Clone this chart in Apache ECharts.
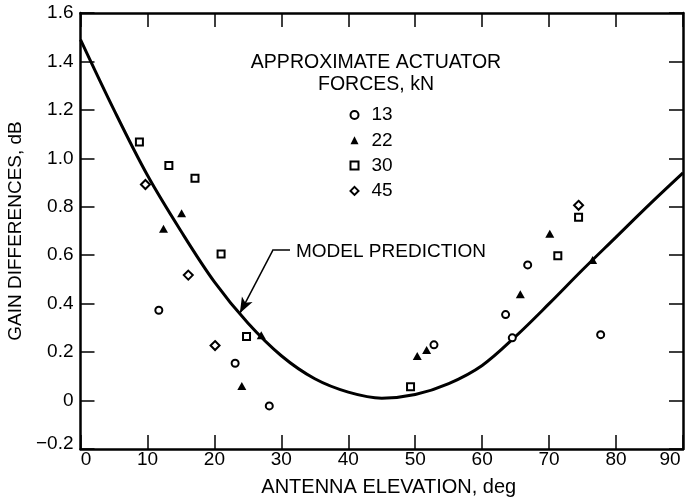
<!DOCTYPE html>
<html>
<head>
<meta charset="utf-8">
<script src="https://cdn.jsdelivr.net/npm/echarts@6/dist/echarts.min.js"></script>
<style>
  html, body { margin: 0; padding: 0; background: #fff; }
  #chart { width: 688px; height: 501px; }
</style>
</head>
<body>
<div id="chart"></div>
<script>
// ---- data ----
const modelX = [0, 5, 10, 15, 20, 25, 30, 35, 40, 45, 50, 55, 60, 65, 70, 75, 80, 85, 90];
const modelY = [1.49, 1.20, 0.93, 0.70, 0.49, 0.32, 0.185, 0.09, 0.035, 0.01, 0.025, 0.07, 0.145, 0.265, 0.40, 0.54, 0.675, 0.81, 0.94];

const force13 = [[11.7, 0.373], [23.1, 0.154], [28.2, -0.022], [52.8, 0.23], [63.5, 0.355], [64.5, 0.259], [66.8, 0.56], [77.7, 0.272]];
const force22 = [[12.4, 0.709], [15.1, 0.773], [24.1, 0.06], [27.0, 0.27], [50.3, 0.184], [51.7, 0.209], [65.7, 0.439], [70.1, 0.689], [76.5, 0.58]];
const force30 = [[8.8, 1.067], [13.2, 0.97], [17.1, 0.918], [21.0, 0.605], [24.8, 0.264], [49.3, 0.057], [71.3, 0.598], [74.4, 0.757]];
const force45 = [[9.7, 0.892], [16.1, 0.518], [20.1, 0.227], [74.4, 0.806]];

const legendNames = ['13', '22', '30', '45'];
const xTicks = { min: 0, max: 90, interval: 10 };
const yTicks = { min: -0.2, max: 1.6, interval: 0.2 };

// annotation anchor points (data coordinates)
const annotElbow = [28.8, 0.624];
const annotStart = [31.3, 0.624];
const annotTip = [23.8, 0.36];

const legendTitle = 'APPROXIMATE ACTUATOR\nFORCES, kN';
const modelLabel = 'MODEL PREDICTION';
const xName = 'ANTENNA ELEVATION, deg';
const yName = 'GAIN DIFFERENCES, dB';

// ---- chart ----
const FONT = '"Liberation Sans", Arial, Helvetica, sans-serif';
const chart = echarts.init(document.getElementById('chart'), null, { renderer: 'canvas' });

function yFmt(v) {
  if (Math.abs(v) < 1e-9) return '0';
  const s = (v < 0 ? '\u2212' : '') + Math.abs(v).toFixed(1);
  return v < 0 ? '{low|' + s + '}' : s;
}
function xFmt(v) {
  if (v === xTicks.min) return '{first|' + v + '}';
  if (v === xTicks.max) return '{last|' + v + '}';
  return String(v);
}

const axisLine = { show: true, onZero: false, lineStyle: { color: '#000', width: 2.5 } };
const axisTick = { show: true, inside: true, length: 14, lineStyle: { color: '#000', width: 1.5 } };

const option = {
  backgroundColor: '#fff',
  animation: false,
  textStyle: { fontFamily: FONT, color: '#000' },
  grid: { left: 80.5, right: 5, top: 13, bottom: 52, containLabel: false, outerBoundsMode: 'none' },
  title: {
    text: legendTitle,
    left: 371,
    top: 47,
    textAlign: 'center',
    textStyle: { fontFamily: FONT, fontSize: 19.5, fontWeight: 'normal', color: '#000', lineHeight: 22 }
  },
  legend: {
    data: legendNames,
    orient: 'vertical',
    left: 344.5,
    top: 100.5,
    itemWidth: 8,
    itemHeight: 8,
    itemGap: 6.3,
    textStyle: { fontFamily: FONT, fontSize: 19, color: '#000', lineHeight: 19, padding: [0, 0, 0, 8] },
    selectedMode: false
  },
  graphic: [{
    type: 'text',
    left: 296,
    top: 242,
    style: { text: modelLabel, font: '19px ' + FONT, fill: '#000' }
  }],
  xAxis: [{
    type: 'value', position: 'bottom',
    min: xTicks.min, max: xTicks.max, interval: xTicks.interval,
    axisLine, axisTick,
    axisLabel: {
      fontSize: 19, color: '#000', margin: 1, fontFamily: FONT, formatter: xFmt,
      rich: {
        first: { fontSize: 19, fontFamily: FONT, color: '#000', padding: [0, 0, 0, 11] },
        last: { fontSize: 19, fontFamily: FONT, color: '#000', padding: [0, 26, 0, 0] }
      }
    },
    splitLine: { show: false },
    name: xName, nameLocation: 'middle', nameGap: 28,
    nameTextStyle: { fontSize: 20, color: '#000', fontFamily: FONT, padding: [0, 0, 0, 14] }
  }, {
    type: 'value', position: 'top',
    min: xTicks.min, max: xTicks.max, interval: xTicks.interval,
    axisLine, axisTick,
    axisLabel: { show: false }, splitLine: { show: false }
  }],
  yAxis: [{
    type: 'value', position: 'left',
    min: yTicks.min, max: yTicks.max, interval: yTicks.interval,
    axisLine, axisTick,
    axisLabel: {
      fontSize: 19, color: '#000', margin: 7, fontFamily: FONT, formatter: yFmt,
      rich: { low: { fontSize: 19, fontFamily: FONT, color: '#000', padding: [0, 0, 10, 0] } }
    },
    splitLine: { show: false },
    name: yName, nameLocation: 'middle', nameGap: 53,
    nameTextStyle: { fontSize: 19, color: '#000', fontFamily: FONT }
  }, {
    type: 'value', position: 'right',
    min: yTicks.min, max: yTicks.max, interval: yTicks.interval,
    axisLine, axisTick,
    axisLabel: { show: false }, splitLine: { show: false }
  }],
  series: [
    {
      name: 'model', type: 'line',
      data: modelX.map((x, i) => [x, modelY[i]]),
      smooth: 0.35, showSymbol: false, symbol: 'none',
      lineStyle: { color: '#000', width: 3 },
      z: 2,
      markLine: {
        silent: true, animation: false,
        symbol: ['none', 'none'],
        label: { show: false },
        lineStyle: { color: '#000', width: 1.5, type: 'solid' },
        data: [
          [{ coord: annotStart, symbol: 'none' }, { coord: annotElbow, symbol: 'none' }],
          [{ coord: annotElbow, symbol: 'none' }, { coord: annotTip, symbol: 'arrow', symbolSize: [9, 16] }]
        ]
      }
    },
    {
      name: '13', type: 'scatter', data: force13,
      symbol: 'circle', symbolSize: 7,
      itemStyle: { color: '#fff', borderColor: '#000', borderWidth: 2, opacity: 1 }, z: 3
    },
    {
      name: '22', type: 'scatter', data: force22,
      symbol: 'triangle', symbolSize: [9, 8],
      itemStyle: { color: '#000', borderColor: '#000', borderWidth: 0, opacity: 1 }, z: 3
    },
    {
      name: '30', type: 'scatter', data: force30,
      symbol: 'rect', symbolSize: 7,
      itemStyle: { color: '#fff', borderColor: '#000', borderWidth: 2, opacity: 1 }, z: 3
    },
    {
      name: '45', type: 'scatter', data: force45,
      symbol: 'diamond', symbolSize: 9,
      itemStyle: { color: '#fff', borderColor: '#000', borderWidth: 2, opacity: 1 }, z: 3
    }
  ]
};
chart.setOption(option);
</script>
</body>
</html>
